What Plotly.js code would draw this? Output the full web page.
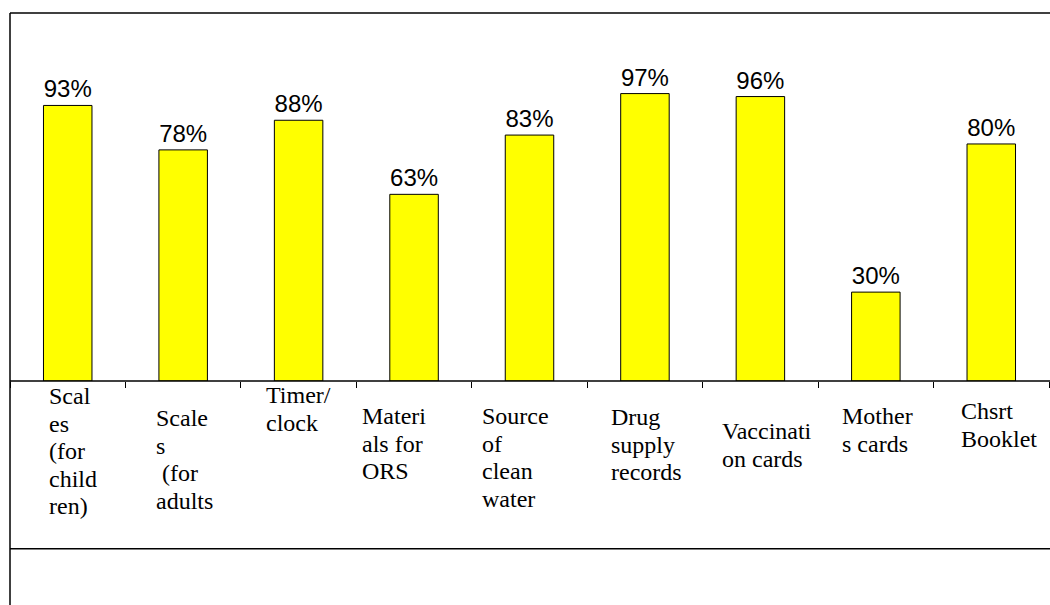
<!DOCTYPE html>
<html>
<head>
<meta charset="utf-8">
<script src="https://cdn.plot.ly/plotly-3.0.1.min.js"></script>
<style>
  html, body { margin: 0; padding: 0; background: #ffffff; }
  #chart { width: 1050px; height: 605px; }
</style>
</head>
<body>
<div id="chart"></div>
<script>
// Equipment / supplies available at facilities (% of facilities)
const categories = [
  "Scales (for children)",
  "Scales (for adults",
  "Timer/clock",
  "Materials for ORS",
  "Source of clean water",
  "Drug supply records",
  "Vaccination cards",
  "Mothers cards",
  "Chsrt Booklet"
];
const values = [93, 78, 88, 63, 83, 97, 96, 30, 80];

// Wrapped lines of each category label, as printed under the axis
const labelLines = [
  ["Scal", "es", "(for", "child", "ren)"],
  ["Scale", "s", "\u00a0(for", "adults"],
  ["Timer/", "clock"],
  ["Materi", "als for", "ORS"],
  ["Source", "of", "clean", "water"],
  ["Drug", "supply", "records"],
  ["Vaccinati", "on cards"],
  ["Mother", "s cards"],
  ["Chsrt", "Booklet"]
];

// Per-label placement (pixel offsets from the category centre / axis line)
const labelDx = [-19, -27, -33, -52, -48, -34, -38, -34, -30];
const labelDy = [2, 24, 1, 22, 22, 23, 37, 22, 17];
const lineStep = 27.6;

const annotations = [];
labelLines.forEach((lines, i) => {
  lines.forEach((txt, j) => {
    annotations.push({
      xref: "x", yref: "paper",
      x: categories[i], y: 0,
      xanchor: "left", yanchor: "top",
      xshift: labelDx[i],
      yshift: -(labelDy[i] + j * lineStep),
      text: txt,
      showarrow: false,
      align: "left",
      borderpad: 0, borderwidth: 0,
      font: { family: "Liberation Serif, Times New Roman, serif", size: 24, color: "#000000" }
    });
  });
});

const trace = {
  type: "bar",
  x: categories,
  y: values,
  width: 0.42,
  marker: { color: "#FFFF00", line: { color: "#000000", width: 1 } },
  texttemplate: "%{y}%",
  textposition: "outside",
  cliponaxis: false,
  textfont: { family: "Liberation Sans, Arial, sans-serif", size: 24, color: "#000000" },
  hoverinfo: "skip"
};

const lineStyle = { color: "#000000", width: 1.5 };
const layout = {
  width: 1050,
  height: 605,
  margin: { l: 10, r: 1, t: 13, b: 224 },
  paper_bgcolor: "#ffffff",
  plot_bgcolor: "#ffffff",
  showlegend: false,
  bargap: 0.58,
  xaxis: {
    type: "category",
    range: [-0.5, 8.5],
    showticklabels: false,
    ticks: "outside",
    tickson: "boundaries",
    ticklen: 6,
    tickwidth: 1,
    tickcolor: "#000000",
    showgrid: false,
    zeroline: false,
    showline: false,
    fixedrange: true
  },
  yaxis: {
    range: [0, 124.2],
    visible: false,
    showgrid: false,
    zeroline: false,
    fixedrange: true
  },
  shapes: [
    // top frame edge
    { type: "line", xref: "paper", yref: "paper", x0: 0, x1: 1.01, y0: 1, y1: 1, line: lineStyle },
    // left frame edge, running to the bottom of the page
    { type: "line", xref: "paper", yref: "paper", x0: 0, x1: 0, y0: 1, y1: -0.62, line: lineStyle },
    // category axis line
    { type: "line", xref: "paper", yref: "paper", x0: 0, x1: 1.01, y0: 0, y1: 0, line: lineStyle },
    // bottom edge of the label area
    { type: "line", xref: "paper", yref: "paper", x0: 0, x1: 1.01, y0: -0.456, y1: -0.456, line: lineStyle }
  ],
  annotations: annotations
};

Plotly.newPlot("chart", [trace], layout, { displayModeBar: false, staticPlot: true });
</script>
</body>
</html>
